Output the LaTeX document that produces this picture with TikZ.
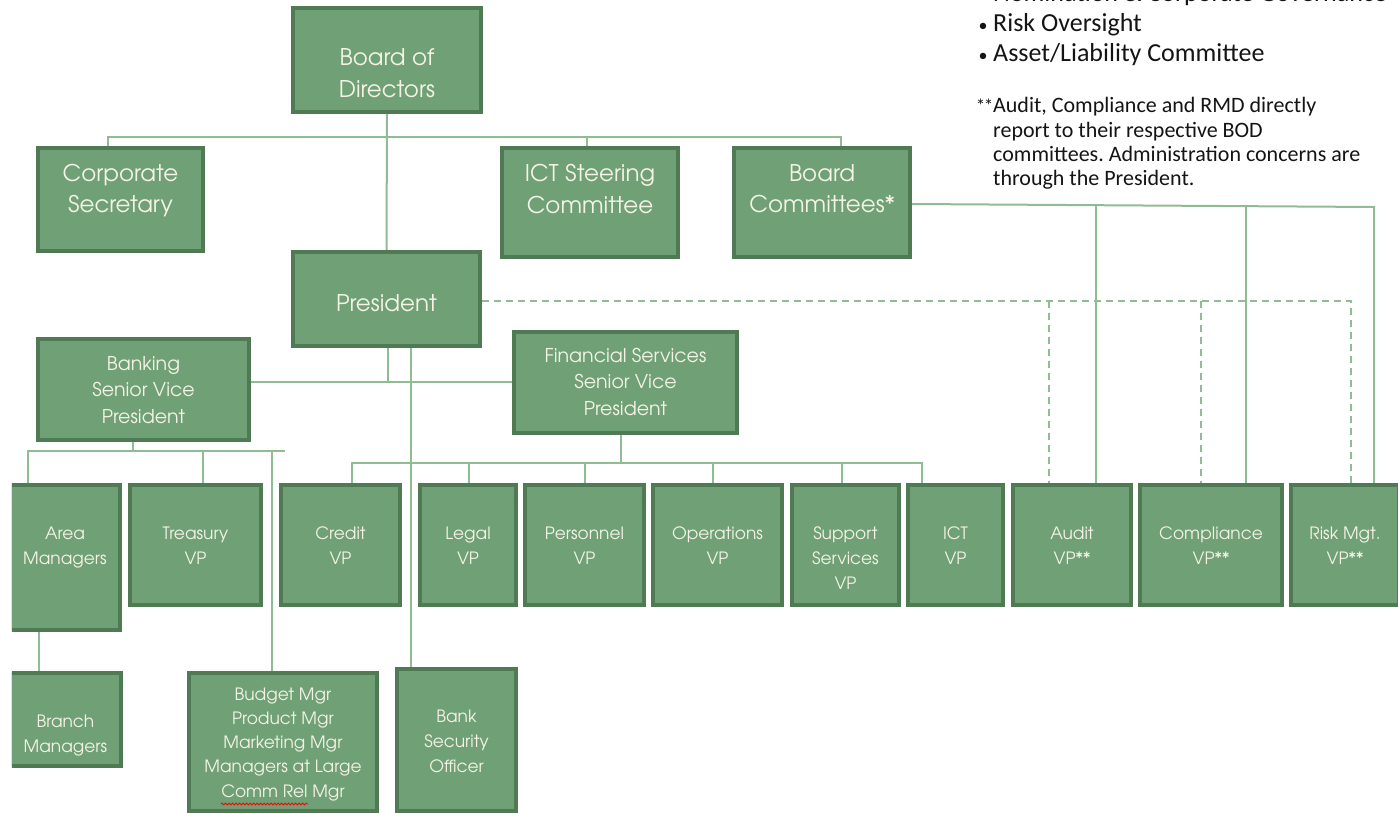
\documentclass[tikz,border=0pt]{standalone}
\usepackage{fontspec}
\setmainfont{Carlito}
\newfontfamily\gothic{TeX Gyre Adventor}
\usetikzlibrary{backgrounds,decorations.pathmorphing}
\frenchspacing
\definecolor{boxfill}{RGB}{112,160,117}
\definecolor{boxedge}{RGB}{80,122,84}
\definecolor{linkc}{RGB}{143,188,146}
\definecolor{txtc}{RGB}{244,243,230}
\definecolor{notec}{RGB}{20,20,20}
\tikzset{
  box/.style={draw=boxedge, fill=boxfill, line width=3.5pt, inner sep=0pt},
  tx/.style={text=txtc, inner sep=0pt, anchor=base},
  tL/.style={tx, font=\gothic\fontsize{23}{31.5}\selectfont},
  tM/.style={tx, font=\gothic\fontsize{19}{26.5}\selectfont},
  tS/.style={tx, font=\gothic\fontsize{17}{25}\selectfont},
  tB/.style={tx, font=\gothic\fontsize{17}{24.3}\selectfont},
  conn/.style={draw=linkc, line width=2pt},
  dsh/.style={draw=linkc, line width=2pt, dash pattern=on 7pt off 5pt},
  note/.style={text=notec, inner sep=0pt},
}
\newcommand\obox[8]{%
  \node[box, minimum width={#4-#2}, minimum height={#5-#3}] (#1) at ({(#2+#4)/2},{(#3+#5)/2}) {};
  \node[#6] (#1-t) at ({(#2+#4)/2},#7) {\begin{tabular}[t]{@{}c@{}}#8\end{tabular}};}
\begin{document}
\begin{tikzpicture}[x=1pt,y=-1pt]
\useasboundingbox (0,0) rectangle (1398,813);
% boxes
\obox{bod}{293}{8}{481}{112}{tL}{66}{Board of\\Directors}
\obox{csec}{38}{148}{203}{251}{tL}{181.5}{Corporate\\Secretary}
\obox{ictsc}{502}{148}{678}{257}{tL}{182}{ICT Steering\\Committee}
\obox{bcom}{734}{148}{910}{257}{tL}{181.5}{Board\\Committees*}
\obox{pres}{293}{252}{480}{346}{tL}{311}{President}
\obox{bsvp}{38}{339}{249}{440}{tM}{370}{Banking\\Senior Vice\\President}
\obox{fsvp}{514}{332}{737}{433}{tM}{362}{Financial Services\\Senior Vice\\President}
\begin{scope}
\clip (11.75,0) rectangle (1398,813);
\obox{area}{10}{485}{120}{630}{tS}{539}{Area\\Managers}
\obox{branch}{10}{673}{121}{766}{tS}{727}{Branch\\Managers}
\end{scope}
\obox{treas}{130}{485}{261}{605}{tS}{539}{Treasury\\VP}
\obox{credit}{281}{485}{400}{605}{tS}{539}{Credit\\VP}
\obox{legal}{420}{485}{516}{605}{tS}{539}{Legal\\VP}
\obox{pers}{525}{485}{644}{605}{tS}{539}{Personnel\\VP}
\obox{ops}{653}{485}{782}{605}{tS}{539}{Operations\\VP}
\obox{supp}{792}{485}{899}{605}{tS}{539}{Support\\Services\\VP}
\obox{ict}{908}{485}{1003}{605}{tS}{539}{ICT\\VP}
\obox{audit}{1013}{485}{1131}{605}{tS}{539}{Audit\\VP**}
\obox{compl}{1140}{485}{1282}{605}{tS}{539}{Compliance\\VP**}
\obox{risk}{1291}{485}{1399}{605}{tS}{539}{Risk Mgt.\\VP**}
\obox{budget}{189}{673}{377}{811}{tB}{700}{Budget Mgr\\Product Mgr\\Marketing Mgr\\Managers at Large\\Comm Rel Mgr}
\obox{secoff}{397}{669}{516}{811}{tS}{722}{Bank\\Security\\Officer}
% spell-check squiggle
\draw[red, line width=0.8pt, decorate, decoration={snake, amplitude=1pt, segment length=3.5pt}] (221,804) -- (308,804);
% notes
\node[note, anchor=base west, font=\fontsize{26}{30}\selectfont] (n0) at (993,2) {Nomination \& Corporate Governance};
\node[note, anchor=base, font=\fontsize{18}{30}\selectfont] (bu1) at (983,32) {•};
\node[note, anchor=base west, font=\fontsize{26}{30}\selectfont] (n1) at (993,32) {Risk Oversight};
\node[note, anchor=base, font=\fontsize{18}{30}\selectfont] (bu2) at (983,62) {•};
\node[note, anchor=base west, font=\fontsize{26}{30}\selectfont] (n2) at (993,62) {Asset/Liability Committee};
\node[note, anchor=base east, font=\fontsize{19}{24.3}\selectfont] (ast) at (993.5,113) {*\kern-1.5pt*};
\node[note, anchor=base west, font=\fontsize{22}{24.3}\selectfont] (foot) at (993,113) {\begin{tabular}[t]{@{}l@{}}Audit, Compliance and RMD directly\\report to their respective BOD\\committees. Administration concerns are\\through the President.\end{tabular}};
% connectors
\begin{scope}[on background layer]
\coordinate (c1) at (108,137);
\coordinate (c2) at (841,137);
\coordinate (c3) at (587,137);
\draw[conn] (bod.south) -- (pres.north);
\draw[conn] (csec.north -| c1) -- (c1) -- (c2) -- (bcom.north -| c2);
\draw[conn] (c3) -- (ictsc.north -| c3);
\coordinate (j1) at (388,382);
\draw[conn] (bsvp.east |- j1) -- (fsvp.west |- j1);
\draw[conn] (pres.south -| j1) -- (j1);
\coordinate (j2) at (411,0);
\draw[conn] (pres.south -| j2) -- (secoff.north -| j2);
% banking
\coordinate (b0) at (133,451);
\coordinate (bL) at (28,451);
\coordinate (bR) at (285,451);
\coordinate (bT) at (203,451);
\coordinate (bB) at (272,451);
\draw[conn] (bsvp.south -| b0) -- (b0);
\draw[conn] (area.north -| bL) -- (bL) -- (bR);
\draw[conn] (bT) -- (treas.north -| bT);
\draw[conn] (bB) -- (budget.north -| bB);
\coordinate (ab) at (39,0);
\draw[conn] (area.south -| ab) -- (branch.north -| ab);
% financial
\coordinate (f0) at (621,463);
\coordinate (fL) at (352,463);
\coordinate (fR) at (922,463);
\draw[conn] (fsvp.south -| f0) -- (f0);
\draw[conn] (credit.north -| fL) -- (fL) -- (fR) -- (ict.north -| fR);
\coordinate (f1) at (469,463);
\coordinate (f2) at (585,463);
\coordinate (f3) at (713,463);
\coordinate (f4) at (842,463);
\draw[conn] (f1) -- (legal.north -| f1);
\draw[conn] (f2) -- (pers.north -| f2);
\draw[conn] (f3) -- (ops.north -| f3);
\draw[conn] (f4) -- (supp.north -| f4);
% dashed admin lines
\coordinate (d0) at (1351,301);
\coordinate (d1) at (1049,301);
\coordinate (d2) at (1201,301);
\draw[dsh] (pres.east |- d0) -- (d0) -- (risk.north -| d0);
\draw[dsh] (d1) -- (audit.north -| d1);
\draw[dsh] (d2) -- (compl.north -| d2);
% board committees
\coordinate (s0) at (1374,207);
\coordinate (s1) at (1096,205.5);
\coordinate (s2) at (1246,206);
\draw[conn] (bcom.east |- 0,204) -- (s0) -- (risk.north -| s0);
\draw[conn] (s1) -- (audit.north -| s1);
\draw[conn] (s2) -- (compl.north -| s2);
\end{scope}
\end{tikzpicture}
\end{document}
